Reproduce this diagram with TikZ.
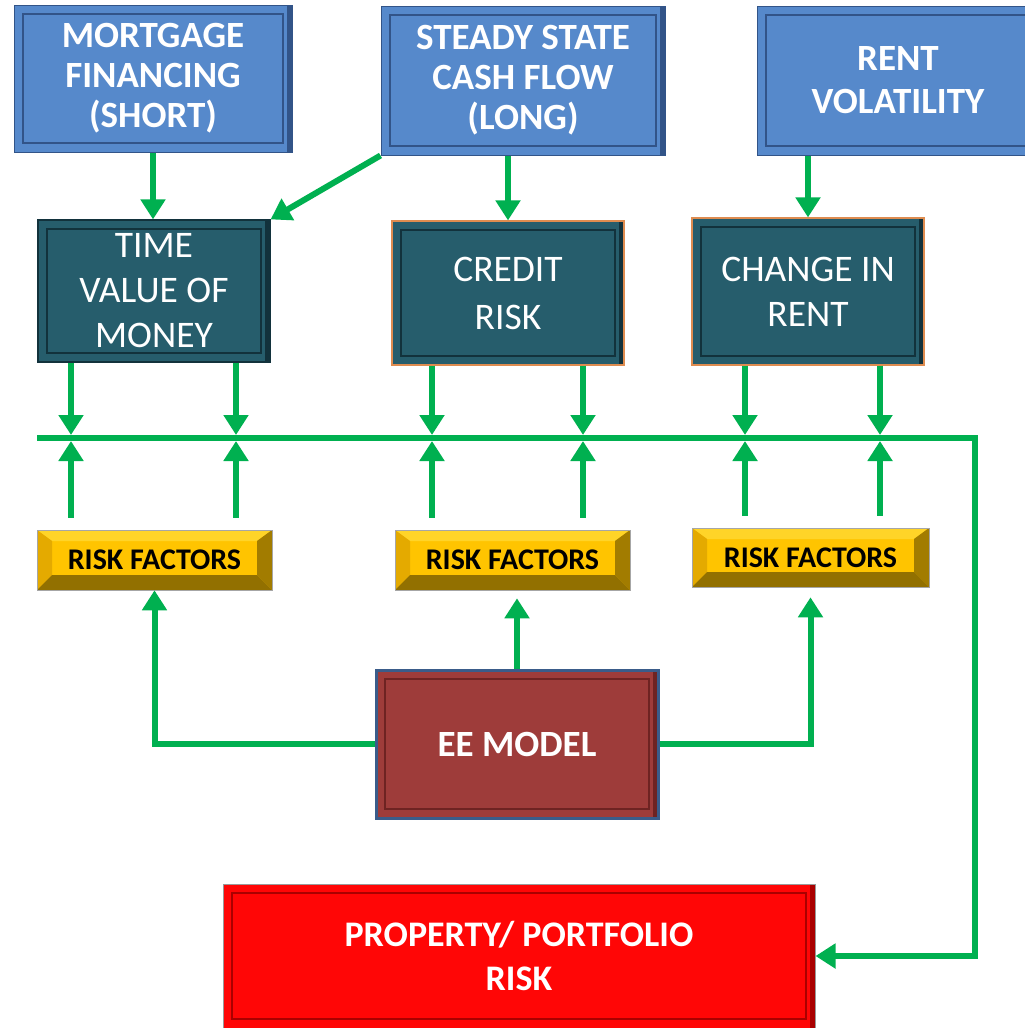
\documentclass[tikz,border=0pt]{standalone}
\usepackage{fontspec}
\setmainfont{Carlito}
\usetikzlibrary{arrows.meta,calc,positioning}

\definecolor{topBlue}{RGB}{86,137,203}
\definecolor{topBlueEdge}{RGB}{50,84,136}
\definecolor{midTeal}{RGB}{38,93,108}
\definecolor{midTealEdge}{RGB}{18,50,60}
\definecolor{rimOrange}{RGB}{222,140,80}
\definecolor{rfGold}{RGB}{255,196,0}
\definecolor{rfGoldTop}{RGB}{255,212,40}
\definecolor{rfGoldLeft}{RGB}{228,170,0}
\definecolor{rfGoldRight}{RGB}{162,124,0}
\definecolor{rfGoldBottom}{RGB}{146,112,0}
\definecolor{eeRed}{RGB}{158,60,58}
\definecolor{eeRedEdge}{RGB}{110,35,34}
\definecolor{eeBlue}{RGB}{58,92,138}
\definecolor{propRed}{RGB}{255,6,6}
\definecolor{propRedEdge}{RGB}{170,0,0}
\definecolor{flowGreen}{RGB}{0,176,80}

\begin{document}
\begin{tikzpicture}[x=1pt,y=-1pt,
  flow/.style={draw=flowGreen, line width=6pt, -{Triangle[width=24pt,length=20pt]}},
  bevel/.style 2 args={fill=#1, path picture={
      \draw[#2, line width=2pt] ($(path picture bounding box.north west)+(9pt,-9pt)$) rectangle ($(path picture bounding box.south east)+(-9pt,9pt)$);
      \fill[#2] ($(path picture bounding box.north east)+(-5pt,0pt)$) rectangle (path picture bounding box.south east);
  }},
  topBox/.style={bevel={topBlue}{topBlueEdge}, draw=topBlueEdge, line width=1pt, text=white, align=center, inner sep=0pt,
    font=\fontsize{37}{40}\selectfont\bfseries},
  midBox/.style={bevel={midTeal}{midTealEdge}, draw=#1, line width=1.2pt, text=white, align=center, inner sep=0pt,
    minimum width=232pt, font=\fontsize{37.5}{45}\selectfont},
  riskBox/.style={fill=rfGold, draw=black!35, line width=0.6pt, minimum width=235pt, inner sep=0pt,
    font=\fontsize{30}{34}\selectfont\bfseries, path picture={
      \coordinate (gA) at (path picture bounding box.north west);
      \coordinate (gB) at (path picture bounding box.north east);
      \coordinate (gC) at (path picture bounding box.south east);
      \coordinate (gD) at (path picture bounding box.south west);
      \fill[rfGoldTop] (gA) -- (gB) -- ($(gB)+(-15pt,-11pt)$) -- ($(gA)+(15pt,-11pt)$) -- cycle;
      \fill[rfGoldLeft] (gA) -- ($(gA)+(15pt,-11pt)$) -- ($(gD)+(15pt,15pt)$) -- (gD) -- cycle;
      \fill[rfGoldRight] (gB) -- (gC) -- ($(gC)+(-15pt,15pt)$) -- ($(gB)+(-15pt,-11pt)$) -- cycle;
      \fill[rfGoldBottom] (gD) -- (gC) -- ($(gC)+(-15pt,15pt)$) -- ($(gD)+(15pt,15pt)$) -- cycle;
  }},
  eeBox/.style={bevel={eeRed}{eeRedEdge}, draw=eeBlue, line width=3pt, text=white, inner sep=0pt,
    font=\fontsize{37}{40}\selectfont\bfseries},
  propBox/.style={bevel={propRed}{propRedEdge}, draw=black!40, line width=1pt, text=white, align=center, inner sep=0pt,
    font=\fontsize{36}{44}\selectfont\bfseries}
]
\useasboundingbox (0,0) rectangle (1025,1028);

%% the three drivers on top
\node[topBox, minimum width=278pt, minimum height=147pt] (mortgage) at (153,78.5) {MORTGAGE\\FINANCING\\(SHORT)};
\node[topBox, minimum width=284pt, minimum height=149pt] (steady) at (523,80.5) {STEADY STATE\\CASH FLOW\\(LONG)};
\node[topBox, minimum width=282pt, minimum height=149pt, font=\fontsize{37}{43}\selectfont\bfseries] (rentVol) at (898,80.5) {RENT\\VOLATILITY};

%% what they feed
\node[midBox=midTealEdge, minimum height=142pt] (tvm) at (154,291) {TIME\\VALUE OF\\MONEY};
\node[midBox=rimOrange, minimum height=144pt, font=\fontsize{37.5}{48}\selectfont] (credit) at (508,293) {CREDIT\\RISK};
\node[midBox=rimOrange, minimum height=147pt] (rentChange) at (808,291.5) {CHANGE IN\\RENT};

%% risk factors
\node[riskBox, minimum height=60pt] (rfLeft) at (154.5,560) {RISK FACTORS};
\node[riskBox, minimum height=60pt] (rfMid) at (512.5,560) {RISK FACTORS};
\node[riskBox, minimum height=59pt, minimum width=237pt] (rfRight) at (810.5,557.5) {RISK FACTORS};

\node[eeBox, minimum width=282pt, minimum height=148pt] (eeModel) at (517,744) {EE MODEL};
\node[propBox, minimum width=592pt, minimum height=144pt] (prop) at (519,956) {PROPERTY/ PORTFOLIO\\RISK};

%% top arrows
\draw[flow] (mortgage.south) -- (mortgage.south |- tvm.north);
\draw[flow] (steady.south west) -- (tvm.north east);
\draw[flow] (credit.north |- steady.south) -- (credit.north);
\draw[flow] (rentChange.north |- rentVol.south) -- (rentChange.north);

%% the bus line and its taps
\coordinate (busW) at (37,438);
\coordinate (busE) at (975,438);
\draw[flow] (busW) -- (busE) -- (busE |- prop.east) -- (prop.east);

\foreach \tx/\upper/\lower in {71/tvm/rfLeft, 236/tvm/rfLeft, 432/credit/rfMid, 583/credit/rfMid, 745/rentChange/rfRight, 880/rentChange/rfRight}
{
  \coordinate (tap) at (\tx,438);
  \draw[flow] (\upper.south -| tap) -- ($(tap)+(0,-3)$);
  \draw[flow] ($(\lower.north -| tap)+(0,-12)$) -- ($(tap)+(0,3)$);
}

%% EE model to the risk factors
\draw[flow] (eeModel.west) -| (rfLeft.south);
\draw[flow, shorten >=8pt] (eeModel.north) -- (eeModel.north |- rfMid.south);
\draw[flow, shorten >=10pt] (eeModel.east) -| (rfRight.south);
\end{tikzpicture}
\end{document}
